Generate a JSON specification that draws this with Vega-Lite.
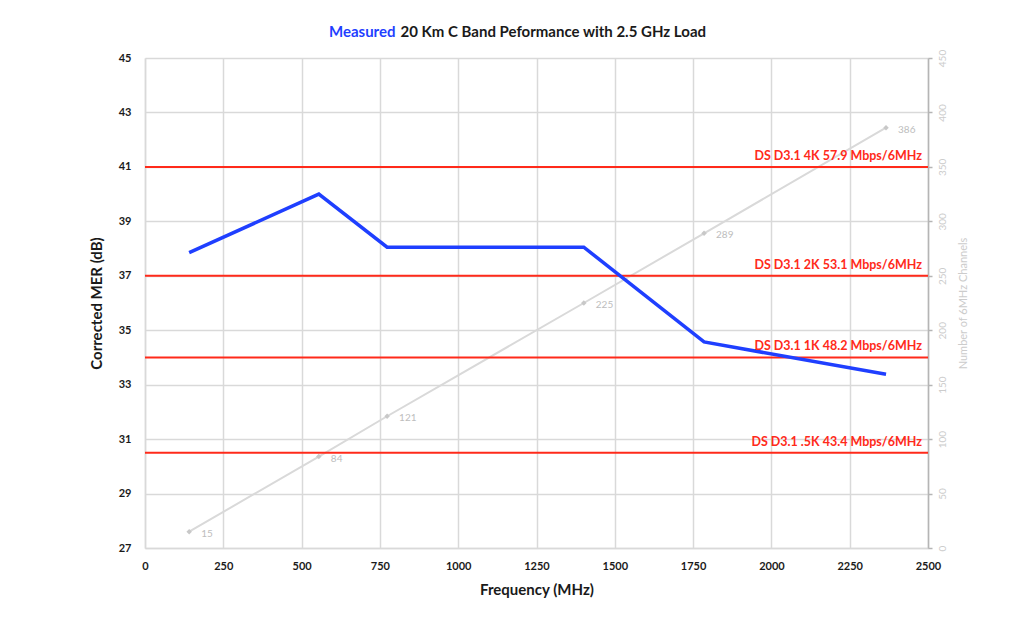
{
  "$schema": "https://vega.github.io/schema/vega-lite/v6.json",
  "width": 783,
  "height": 490,
  "autosize": {"type": "none"},
  "padding": {"left": 145, "top": 58, "right": 98, "bottom": 69},
  "background": "white",
  "config": {
    "font": "Lato",
    "view": {"stroke": null},
    "axis": {"gridColor": "#d9d9d9", "gridWidth": 1.5, "domainColor": "#d9d9d9", "domainWidth": 1.5}
  },
  "datasets": {
    "perf": [
      {"freq": 141, "mer": 37.85, "channels": 15},
      {"freq": 555, "mer": 40.0, "channels": 84},
      {"freq": 773, "mer": 38.05, "channels": 121},
      {"freq": 1401, "mer": 38.05, "channels": 225},
      {"freq": 1785, "mer": 34.57, "channels": 289},
      {"freq": 2366, "mer": 33.38, "channels": 386}
    ],
    "limits": [
      {"label": "DS D3.1 4K 57.9 Mbps/6MHz", "mer": 41},
      {"label": "DS D3.1 2K 53.1 Mbps/6MHz", "mer": 37},
      {"label": "DS D3.1 1K 48.2 Mbps/6MHz", "mer": 34},
      {"label": "DS D3.1 .5K 43.4 Mbps/6MHz", "mer": 30.5}
    ]
  },
  "resolve": {"scale": {"y": "independent"}, "axis": {"x": "independent", "y": "independent"}},
  "layer": [
    {
      "data": {"name": "perf"},
      "mark": {"type": "line", "color": "#d9d9d9", "strokeWidth": 2},
      "encoding": {
        "x": {"field": "freq", "type": "quantitative", "scale": {"domain": [0, 2500], "nice": false},
          "axis": {"orient": "top", "labels": false, "ticks": false, "domain": false, "grid": false,
            "title": "Measured", "titleColor": "#1f3fff", "titleFontSize": 15, "titleFontWeight": "bold",
            "titleX": 250, "titleY": -22, "titleAlign": "right", "titleBaseline": "alphabetic", "titleAngle": 0}},
        "y": {"field": "channels", "type": "quantitative", "scale": {"domain": [0, 450], "nice": false},
          "axis": {"orient": "right", "values": [0, 50, 100, 150, 200, 250, 300, 350, 400, 450], "grid": false,
            "domainColor": "#b5b5b5", "domainWidth": 1.5, "tickColor": "#b5b5b5", "tickWidth": 1.5, "tickSize": 4,
            "labelAngle": -90, "labelAlign": "center", "labelBaseline": "top", "labelPadding": 5,
            "labelColor": "#cccccc", "labelFontSize": 10,
            "title": "Number of 6MHz Channels", "titleColor": "#cccccc", "titleFontSize": 11, "titleFontWeight": "normal",
            "titleAngle": -90, "titleBaseline": "top", "titlePadding": 10}}
      }
    },
    {
      "data": {"name": "perf"},
      "mark": {"type": "point", "shape": "diamond", "filled": true, "size": 30, "color": "#c8c8c8", "opacity": 1},
      "encoding": {
        "x": {"field": "freq", "type": "quantitative", "scale": {"domain": [0, 2500], "nice": false},
          "axis": {"orient": "top", "labels": false, "ticks": false, "domain": false, "grid": false,
            "title": "20 Km C Band Peformance with 2.5 GHz Load", "titleColor": "#1a1a1a", "titleFontSize": 15, "titleFontWeight": "bold",
            "titleX": 255, "titleY": -22, "titleAlign": "left", "titleBaseline": "alphabetic", "titleAngle": 0}},
        "y": {"field": "channels", "type": "quantitative", "scale": {"domain": [0, 450], "nice": false}, "axis": null}
      }
    },
    {
      "data": {"name": "perf"},
      "mark": {"type": "text", "align": "left", "baseline": "middle", "dx": 12, "dy": 2, "fontSize": 10, "color": "#bdbdbd"},
      "encoding": {
        "x": {"field": "freq", "type": "quantitative", "scale": {"domain": [0, 2500], "nice": false}, "axis": null},
        "y": {"field": "channels", "type": "quantitative", "scale": {"domain": [0, 450], "nice": false}, "axis": null},
        "text": {"field": "channels", "type": "quantitative"}
      }
    },
    {
      "data": {"name": "limits"},
      "mark": {"type": "rule", "color": "#ff2a1a", "strokeWidth": 2},
      "encoding": {
        "y": {"field": "mer", "type": "quantitative", "scale": {"domain": [27, 45], "nice": false}, "axis": null}
      }
    },
    {
      "data": {"name": "perf"},
      "mark": {"type": "line", "color": "#1f3fff", "strokeWidth": 3.5},
      "encoding": {
        "x": {"field": "freq", "type": "quantitative", "scale": {"domain": [0, 2500], "nice": false},
          "axis": {"orient": "bottom", "values": [0, 250, 500, 750, 1000, 1250, 1500, 1750, 2000, 2250, 2500], "format": "d",
            "grid": true, "ticks": false, "labelPadding": 12, "labelFontSize": 11, "labelFontWeight": "bold", "labelColor": "#1a1a1a",
            "labelFlush": false,
            "title": "Frequency (MHz)", "titleFontSize": 15, "titleFontWeight": "bold", "titleColor": "#1a1a1a", "titlePadding": 11}},
        "y": {"field": "mer", "type": "quantitative", "scale": {"domain": [27, 45], "nice": false},
          "axis": {"orient": "left", "values": [27, 29, 31, 33, 35, 37, 39, 41, 43, 45], "grid": true, "ticks": false,
            "labelPadding": 14, "labelFontSize": 11, "labelFontWeight": "bold", "labelColor": "#1a1a1a",
            "title": "Corrected MER (dB)", "titleFontSize": 15, "titleFontWeight": "bold", "titleColor": "#1a1a1a", "titlePadding": 14}}
      }
    },
    {
      "data": {"name": "limits"},
      "mark": {"type": "text", "align": "right", "baseline": "bottom", "dx": -6, "dy": -4, "fontSize": 12.5, "fontWeight": "bold", "color": "#ff2a1a"},
      "encoding": {
        "x": {"datum": 2500, "type": "quantitative", "scale": {"domain": [0, 2500], "nice": false}, "axis": null},
        "y": {"field": "mer", "type": "quantitative", "scale": {"domain": [27, 45], "nice": false}, "axis": null},
        "text": {"field": "label", "type": "nominal"}
      }
    }
  ]
}
